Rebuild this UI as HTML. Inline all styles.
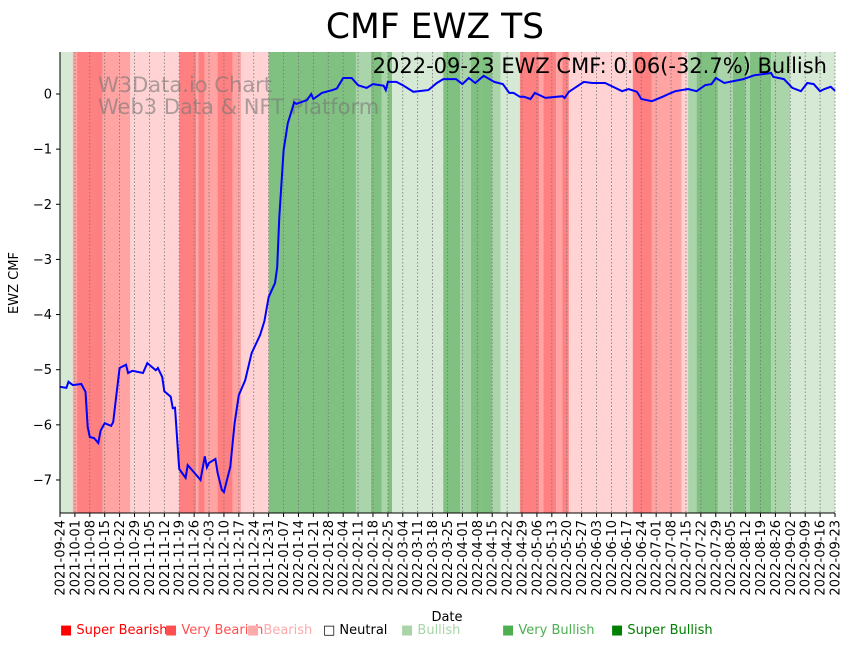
<!DOCTYPE html>
<html><head><meta charset="utf-8"><style>
body{margin:0;background:#fff;font-family:"Liberation Sans","DejaVu Sans",sans-serif}
svg text{font-family:"DejaVu Sans","Liberation Sans",sans-serif}
</style></head><body>
<svg id="c" width="851" height="646" viewBox="0 0 851 646" xmlns="http://www.w3.org/2000/svg">
<text x="435" y="38" font-size="34.5" text-anchor="middle">CMF EWZ TS</text>
<g id="bands"></g>
<g id="grid"></g>
<text x="98" y="92" font-size="21" fill="#777" fill-opacity="0.6">W3Data.io Chart</text>
<text x="98" y="114" font-size="21" fill="#777" fill-opacity="0.6">Web3 Data &amp; NFT Platform</text>
<path id="line" fill="none" stroke="#0000ff" stroke-width="2"></path>
<text x="827" y="73" font-size="21" text-anchor="end">2022-09-23 EWZ CMF: 0.06(-32.7%) Bullish</text>
<g id="axes"></g>
<text x="18" y="283" font-size="13" text-anchor="middle" transform="rotate(-90 18 283)">EWZ CMF</text>
<text x="447" y="621" font-size="13" text-anchor="middle">Date</text>
<g font-size="13">
<text x="60" y="634" fill="#ff0000">■ Super Bearish</text>
<text x="165" y="634" fill="#ff5050">■ Very Bearish</text>
<text x="247" y="634" fill="#ffaaaa">■ Bearish</text>
<text x="323" y="634" fill="#000">□ Neutral</text>
<text x="401" y="634" fill="#a8d5a8">■ Bullish</text>
<text x="502" y="634" fill="#4caf50">■ Very Bullish</text>
<text x="611" y="634" fill="#008000">■ Super Bullish</text>
</g>
</svg>
<script>
const tickLabels=["2021-09-24","2021-10-01","2021-10-08","2021-10-15","2021-10-22","2021-10-29","2021-11-05","2021-11-12","2021-11-19","2021-11-26","2021-12-03","2021-12-10","2021-12-17","2021-12-24","2021-12-31","2022-01-07","2022-01-14","2022-01-21","2022-01-28","2022-02-04","2022-02-11","2022-02-18","2022-02-25","2022-03-04","2022-03-11","2022-03-18","2022-03-25","2022-04-01","2022-04-08","2022-04-15","2022-04-22","2022-04-29","2022-05-06","2022-05-13","2022-05-20","2022-05-27","2022-06-03","2022-06-10","2022-06-17","2022-06-24","2022-07-01","2022-07-08","2022-07-15","2022-07-22","2022-07-29","2022-08-05","2022-08-12","2022-08-19","2022-08-26","2022-09-02","2022-09-09","2022-09-16","2022-09-23"];
const yTicks=[0,-1,-2,-3,-4,-5,-6,-7];
const bandStart=[0,6,8,20,33,56,64,65,68,74,81,85,98,139,146,151,154,156,180,188,193,198,203,207,216,225,227,233,236,239,241,269,278,292,295,299,309,316,322,324,334,343];
const bandLevel=[1,-2,-3,-2,-1,-3,-2,-3,-2,-3,-2,-1,3,2,3,2,3,1,3,2,3,3,2,1,-3,-2,-3,-2,-3,-1,-1,-3,-2,-1,2,3,2,3,2,3,2,1];
const lineDays=[0,3,4,6,10,12,13,14,16,18,19,21,24,25,26,28,31,32,34,39,41,45,46,48,49,52,53,54,56,59,60,64,66,68,69,70,73,74,76,77,80,82,84,87,90,94,96,98,101,102,103,105,107,110,111,116,118,119,123,128,130,133,137,140,144,147,152,153,154,158,161,166,173,177,180,186,189,192,195,199,204,208,211,213,216,218,221,223,228,236,237,239,246,250,256,264,267,271,273,278,283,287,289,295,299,303,306,308,312,321,326,334,335,340,344,348,351,354,357,359,362,365];
const lineVals=[-5.31,-5.33,-5.22,-5.28,-5.26,-5.40,-6.04,-6.22,-6.24,-6.33,-6.11,-5.97,-6.02,-5.95,-5.61,-4.97,-4.91,-5.06,-5.02,-5.06,-4.88,-5.01,-4.97,-5.13,-5.39,-5.49,-5.70,-5.69,-6.80,-6.96,-6.73,-6.91,-7.00,-6.57,-6.77,-6.69,-6.62,-6.87,-7.18,-7.22,-6.76,-5.97,-5.46,-5.19,-4.70,-4.37,-4.12,-3.68,-3.43,-3.14,-2.23,-1.02,-0.53,-0.15,-0.18,-0.11,0.0,-0.09,0.02,0.07,0.10,0.29,0.29,0.16,0.11,0.18,0.15,0.07,0.22,0.22,0.16,0.04,0.07,0.20,0.27,0.27,0.18,0.29,0.20,0.33,0.22,0.18,0.02,0.02,-0.05,-0.05,-0.09,0.02,-0.07,-0.04,-0.07,0.04,0.22,0.20,0.20,0.05,0.09,0.04,-0.09,-0.13,-0.05,0.02,0.05,0.09,0.05,0.16,0.18,0.29,0.20,0.27,0.34,0.38,0.31,0.27,0.11,0.05,0.20,0.18,0.05,0.09,0.13,0.06];
const X0=60,X1=835,Y0=52,Y1=513,D0=0,D1=364;
const levelColor={"-3":"#ff8080","-2":"#ffa3a3","-1":"#ffd3d3","0":"#ffffff","1":"#d5e9d5","2":"#aad4aa","3":"#80c080"};
function xs(d){return X0+(d-D0)/(D1-D0)*(X1-X0);}
function ys(v){return 94-v*55.14;}
const NS="http://www.w3.org/2000/svg";
function mk(t,a,p){const e=document.createElementNS(NS,t);for(const k in a)e.setAttribute(k,a[k]);p.appendChild(e);return e;}
const bands=document.getElementById('bands');
for(let i=0;i<bandStart.length;i++){
  const a=xs(bandStart[i]),b=i+1<bandStart.length?xs(bandStart[i+1]):X1;
  const r=mk('rect',{x:a,y:Y0,width:Math.max(0,Math.min(b,X1)-a),height:Y1-Y0,fill:levelColor[bandLevel[i]]},bands);
  
  
}
const grid=document.getElementById('grid'),axes=document.getElementById('axes');
tickLabels.forEach((t,i)=>{
  const x=xs(i*7);
  const g=mk('line',{x1:x,x2:x,y1:Y0,y2:Y1,stroke:'#777','stroke-width':0.8,'stroke-dasharray':'1.5,2'},grid);
  
  
  mk('line',{x1:x,x2:x,y1:Y1,y2:Y1+4,stroke:'#000'},axes);
  const tx=mk('text',{x:x+4.5,y:Y1+7,'font-size':13,'text-anchor':'end',transform:`rotate(-90 ${x+4.5} ${Y1+7})`},axes);
  tx.textContent=t;
  
  
});
yTicks.forEach(v=>{
  const y=ys(v);
  mk('line',{x1:X0-4,x2:X0,y1:y,y2:y,stroke:'#000'},axes);
  const tx=mk('text',{x:X0-8,y:y+4.5,'font-size':13,'text-anchor':'end'},axes);
  tx.textContent=v===0?'0':'\u2212'+Math.abs(v);
  
  
});
mk('line',{x1:X0,x2:X0,y1:Y0,y2:Y1,stroke:'#000'},axes);
mk('line',{x1:X0,x2:X1,y1:Y1,y2:Y1,stroke:'#000'},axes);
document.getElementById('line').setAttribute('d',lineDays.map((d,i)=>(i?'L':'M')+xs(Math.min(d,D1)).toFixed(1)+','+ys(lineVals[i]).toFixed(1)).join(''));
</script>
</body></html>
